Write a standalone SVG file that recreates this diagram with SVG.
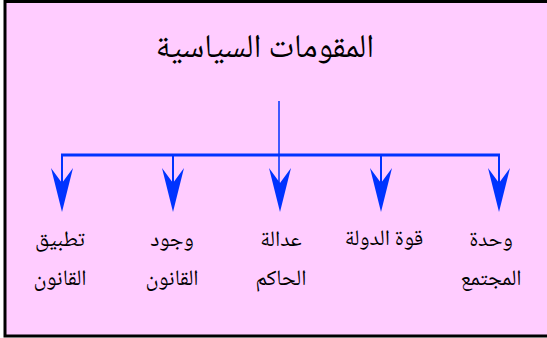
<svg xmlns="http://www.w3.org/2000/svg" width="547" height="338" viewBox="0 0 547 338">
<style>
.t{font-family:"Noto Naskh Arabic","Amiri","DejaVu Sans",serif;fill:#000;text-anchor:middle;direction:rtl}
.lbl{font-size:22px}
.ttl{font-size:33px}
.ln{stroke:#0033FF;fill:none}
.ah{fill:#0033FF}
</style>
<defs>
<path id="arr" d="M0,0 L-11,-44 L0,-29 L11,-44 Z"/>
</defs>
<rect x="5" y="1.5" width="600" height="334.5" fill="#FFCCFF" stroke="#000" stroke-width="3"/>
<g id="title"><text class="t ttl" x="265" y="57">المقومات السياسية</text></g>
<g id="connectors">
<line class="ln" x1="279" y1="101" x2="279" y2="190" stroke-width="1.5"/>
<line class="ln" x1="61" y1="155" x2="500" y2="155" stroke-width="3"/>
<line class="ln" x1="62" y1="155" x2="62" y2="190" stroke-width="2"/>
<line class="ln" x1="173" y1="155" x2="173" y2="190" stroke-width="2"/>
<line class="ln" x1="381" y1="155" x2="381" y2="190" stroke-width="2"/>
<line class="ln" x1="499" y1="155" x2="499" y2="190" stroke-width="2"/>
<use href="#arr" class="ah" x="62" y="212"/>
<use href="#arr" class="ah" x="173" y="212"/>
<use href="#arr" class="ah" x="280" y="212"/>
<use href="#arr" class="ah" x="381" y="212"/>
<use href="#arr" class="ah" x="499" y="212"/>
</g>
<g id="n1"><text class="t lbl" x="60" y="246">تطبيق</text><text class="t lbl" x="60" y="285">القانون</text></g>
<g id="n2"><text class="t lbl" x="172" y="246">وجود</text><text class="t lbl" x="172" y="285">القانون</text></g>
<g id="n3"><text class="t lbl" x="281" y="246">عدالة</text><text class="t lbl" x="281" y="285">الحاكم</text></g>
<g id="n4"><text class="t lbl" x="384" y="245">قوة الدولة</text></g>
<g id="n5"><text class="t lbl" x="491" y="246">وحدة</text><text class="t lbl" x="491" y="285">المجتمع</text></g>
</svg>
